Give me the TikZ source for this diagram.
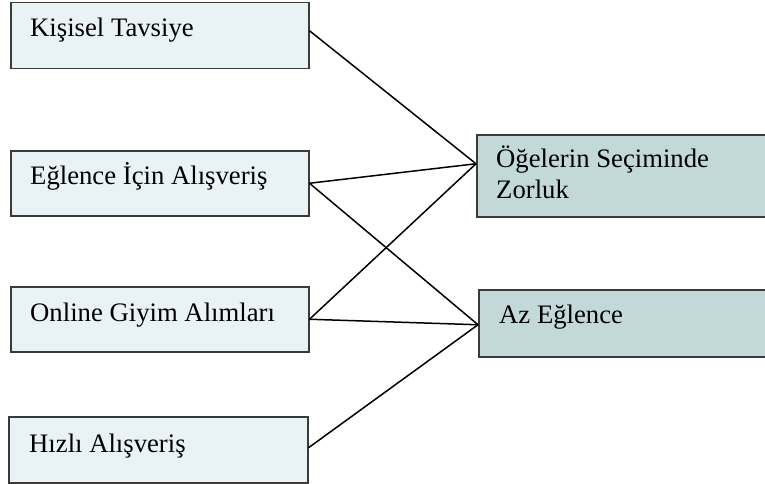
\documentclass[tikz,border=0pt]{standalone}
\usepackage{fontspec}
\setmainfont{Liberation Serif}
\definecolor{boxline}{HTML}{3A3A3A}
\definecolor{leftfill}{HTML}{E9F2F4}
\definecolor{rightfill}{HTML}{C3D8D8}
\tikzset{
  leftbox/.style={draw=boxline, fill=leftfill, line width=1.5pt, anchor=north west,
    minimum width=298pt, minimum height=66pt, inner sep=0pt},
  rightbox/.style={leftbox, fill=rightfill, minimum width=330pt},
  boxtext/.style={anchor=base west, inner sep=0pt, align=left,
    font=\fontsize{26.7}{31}\selectfont},
  link/.style={line width=1.5pt, black}
}
\begin{document}
\begin{tikzpicture}[x=1pt, y=-1pt]
    \useasboundingbox (0,0) rectangle (765,484);
    % left column
    \node [leftbox] (kisisel) at (10,2) {};
    \node [leftbox, minimum height=65pt] (eglence) at (10,150) {};
    \node [leftbox, minimum height=65pt] (online) at (10,286) {};
    \node [leftbox, minimum width=299pt] (hizli) at (8,416) {};
    \node [boxtext] (kisiselt) at ([shift={(20pt,-35pt)}]kisisel.north west) {Kişisel Tavsiye};
    \node [boxtext] (eglencet) at ([shift={(20pt,-34pt)}]eglence.north west) {Eğlence İçin Alışveriş};
    \node [boxtext] (onlinet) at ([shift={(20pt,-35pt)}]online.north west) {Online Giyim Alımları};
    \node [boxtext] (hizlit) at ([shift={(21pt,-36pt)}]hizli.north west) {Hızlı Alışveriş};
    % right column
    \node [rightbox, minimum height=82pt] (secim) at (476,134) {};
    \node [rightbox, minimum height=67pt] (azeglence) at (478,289) {};
    \node [boxtext] (secimt) at ([shift={(20pt,-64pt)}]secim.north west) {Öğelerin Seçiminde\\Zorluk};
    \node [boxtext] (azeglencet) at ([shift={(21pt,-34pt)}]azeglence.north west) {Az Eğlence};
    % links
    \coordinate (secimin) at ([yshift=12pt]secim.west);
    \coordinate (azin) at ([yshift=-1.5pt]azeglence.west);
    \draw [link] ([yshift=5pt]kisisel.east) -- (secimin);
    \draw [link] (eglence.east) -- (secimin);
    \draw [link] (eglence.east) -- (azin);
    \draw [link] (online.east) -- (secimin);
    \draw [link] (online.east) -- (azin);
    \draw [link] ([yshift=2pt]hizli.east) -- (azin);
\end{tikzpicture}
\end{document}
